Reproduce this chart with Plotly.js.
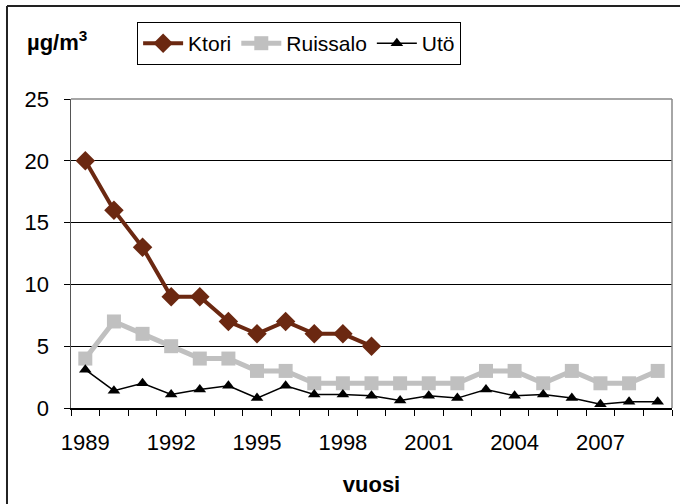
<!DOCTYPE html>
<html>
<head>
<meta charset="utf-8">
<script src="https://cdn.plot.ly/plotly-3.0.1.min.js"></script>
<style>
  html, body { margin: 0; padding: 0; background: #fff; }
  #chart { width: 680px; height: 504px; }
</style>
</head>
<body>
<div id="chart"></div>
<script>
const years = [1989,1990,1991,1992,1993,1994,1995,1996,1997,1998,1999,2000,2001,2002,2003,2004,2005,2006,2007,2008,2009];
const ktoriYears = [1989,1990,1991,1992,1993,1994,1995,1996,1997,1998,1999];
const ktori = [20,16,13,9,9,7,6,7,6,6,5];
const ruissalo = [4,7,6,5,4,4,3,3,2,2,2,2,2,2,3,3,2,3,2,2,3];
const uto = [3.1,1.4,2.0,1.1,1.5,1.8,0.8,1.8,1.1,1.1,1.0,0.6,1.0,0.8,1.5,1.0,1.1,0.8,0.3,0.5,0.5];
const xTickVals = [1989,1992,1995,1998,2001,2004,2007];
const xTickText = ['1989','1992','1995','1998','2001','2004','2007'];
const yTickVals = [0,5,10,15,20,25];

const FONT = 'Liberation Sans, Arial, sans-serif';

const traces = [
  {
    name: 'Ktori', x: ktoriYears, y: ktori, type: 'scatter', mode: 'lines+markers',
    line: {color: '#6B2811', width: 4},
    marker: {symbol: 'diamond', size: 15, color: '#6B2811'}
  },
  {
    name: 'Ruissalo', x: years, y: ruissalo, type: 'scatter', mode: 'lines+markers',
    line: {color: '#C0C0C0', width: 5},
    marker: {symbol: 'square', size: 14, color: '#C0C0C0'}
  },
  {
    name: 'Utö', x: years, y: uto, type: 'scatter', mode: 'lines+markers',
    line: {color: '#000000', width: 1.5},
    marker: {symbol: 'triangle-up', size: 11, color: '#000000'}
  }
];

const layout = {
  width: 680, height: 504,
  margin: {l: 71, r: 8, t: 99, b: 96},
  paper_bgcolor: '#ffffff', plot_bgcolor: '#ffffff',
  font: {family: FONT, size: 22, color: '#000'},
  showlegend: true,
  legend: {
    orientation: 'h', x: 0.11, y: 1.249, xanchor: 'left', yanchor: 'top',
    bordercolor: '#000', borderwidth: 1, bgcolor: '#fff',
    font: {family: FONT, size: 21, color: '#000'},
    itemwidth: 40, tracegroupgap: 0
  },
  xaxis: {
    type: 'linear', range: [1988.5, 2009.5], fixedrange: true,
    tickvals: xTickVals, ticktext: xTickText, ticks: '',
    ticklabelstandoff: 14,
    tickfont: {family: FONT, size: 22, color: '#000'},
    showgrid: false, zeroline: false,
    showline: true, linecolor: '#000', linewidth: 1.5,
    minor: {tick0: 1988.5, dtick: 1, ticks: 'outside', ticklen: 6, tickcolor: '#000', tickwidth: 1, showgrid: false},
    title: {text: '<b>vuosi</b>', font: {family: FONT, size: 22, color: '#000'}, standoff: 22}
  },
  yaxis: {
    range: [0, 25], tickvals: yTickVals, fixedrange: true,
    ticks: 'outside', ticklen: 6, tickcolor: '#000', tickwidth: 1,
    ticklabelstandoff: 10,
    tickfont: {family: FONT, size: 22, color: '#000'},
    showgrid: true, gridcolor: '#000', gridwidth: 1,
    zeroline: false, showline: true, linecolor: '#555', linewidth: 1.5
  },
  shapes: [
    {type: 'line', xref: 'paper', yref: 'paper', x0: 0, x1: 1, y0: 1, y1: 1, line: {color: '#888', width: 1.5}},
    {type: 'line', xref: 'paper', yref: 'paper', x0: 1, x1: 1, y0: 0, y1: 1, line: {color: '#888', width: 1.5}},
    {type: 'line', xref: 'paper', yref: 'paper', x0: -0.1065, x1: -0.1065, y0: -0.32, y1: 1.301, line: {color: '#222', width: 2}},
    {type: 'line', xref: 'paper', yref: 'paper', x0: -0.1065, x1: 1.02, y0: 1.301, y1: 1.301, line: {color: '#222', width: 2}}
  ],
  annotations: [
    {xref: 'paper', yref: 'paper', x: (25 - 71) / 601, y: (408 - 41) / 309, xanchor: 'left', yanchor: 'middle',
     text: '<b>µg/m<sup>3</sup></b>', showarrow: false, font: {family: FONT, size: 22, color: '#000'}}
  ]
};

Plotly.newPlot('chart', traces, layout, {displayModeBar: false, staticPlot: true});
</script>
</body>
</html>
